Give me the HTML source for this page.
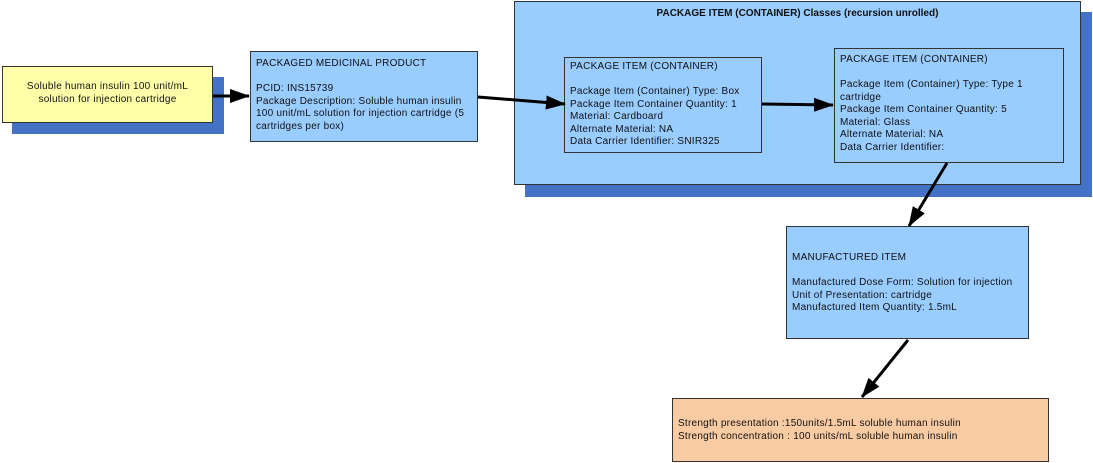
<!DOCTYPE html>
<html><head><meta charset="utf-8"><style>
body{margin:0;width:1093px;height:463px;background:#fff;position:relative;overflow:hidden;font-family:"Liberation Sans",Arial,sans-serif;font-size:10px;color:#111;letter-spacing:0.25px}
.b{position:absolute;box-sizing:border-box;border:1px solid #333;line-height:12.5px;padding:4px 5px}
.s{position:absolute;background:#4472c4}
svg{position:absolute;left:0;top:0}
</style></head><body>
<div class="s" style="left:12px;top:77px;width:212px;height:57px"></div>
<div class="b" style="left:2px;top:66px;width:211px;height:57px;background:#ffffaa;text-align:center;padding-top:14px">Soluble human insulin 100 unit/mL<br>solution for injection cartridge</div>
<div class="b" style="left:250px;top:51px;width:228px;height:91px;background:#99ccff;padding-top:6px">PACKAGED MEDICINAL PRODUCT<br><br>PCID: INS15739<br>Package Description: Soluble human insulin<br>100 unit/mL solution for injection cartridge (5<br>cartridges per box)</div>
<div class="s" style="left:525px;top:12px;width:567px;height:185px"></div>
<div class="b" style="left:514px;top:1px;width:567px;height:184px;background:#99ccff;text-align:center;font-weight:bold;padding-top:6px;letter-spacing:0">PACKAGE ITEM (CONTAINER) Classes (recursion unrolled)</div>
<div class="b" style="left:564px;top:57px;width:198px;height:96px;background:#99ccff;padding-top:3px">PACKAGE ITEM (CONTAINER)<br><br>Package Item (Container) Type: Box<br>Package Item Container Quantity: 1<br>Material: Cardboard<br>Alternate Material: NA<br>Data Carrier Identifier: SNIR325</div>
<div class="b" style="left:834px;top:48px;width:230px;height:115px;background:#99ccff;padding-top:5px">PACKAGE ITEM (CONTAINER)<br><br>Package Item (Container) Type: Type 1<br>cartridge<br>Package Item Container Quantity: 5<br>Material: Glass<br>Alternate Material: NA<br>Data Carrier Identifier:</div>
<div class="b" style="left:786px;top:226px;width:243px;height:113px;background:#99ccff;padding-top:25px">MANUFACTURED ITEM<br><br>Manufactured Dose Form: Solution for injection<br>Unit of Presentation: cartridge<br>Manufactured Item Quantity: 1.5mL</div>
<div class="b" style="left:672px;top:398px;width:377px;height:64px;background:#f9cba3;padding-top:19px">Strength presentation :150units/1.5mL soluble human insulin<br>Strength concentration : 100 units/mL soluble human insulin</div>
<svg width="1093" height="463">
<defs><marker id="m" markerWidth="20" markerHeight="14" refX="19" refY="7" orient="auto" markerUnits="userSpaceOnUse"><path d="M0,0L20,7L0,14z" fill="#000"/></marker></defs>
<g stroke="#000" stroke-width="3" fill="none">
<line x1="213" y1="96" x2="249" y2="96" marker-end="url(#m)"/>
<line x1="478" y1="97" x2="565" y2="104" marker-end="url(#m)"/>
<line x1="762" y1="104" x2="833" y2="105" marker-end="url(#m)"/>
<line x1="947" y1="163" x2="909" y2="226" marker-end="url(#m)"/>
<line x1="908" y1="340" x2="862" y2="397" marker-end="url(#m)"/>
</g></svg>
</body></html>
